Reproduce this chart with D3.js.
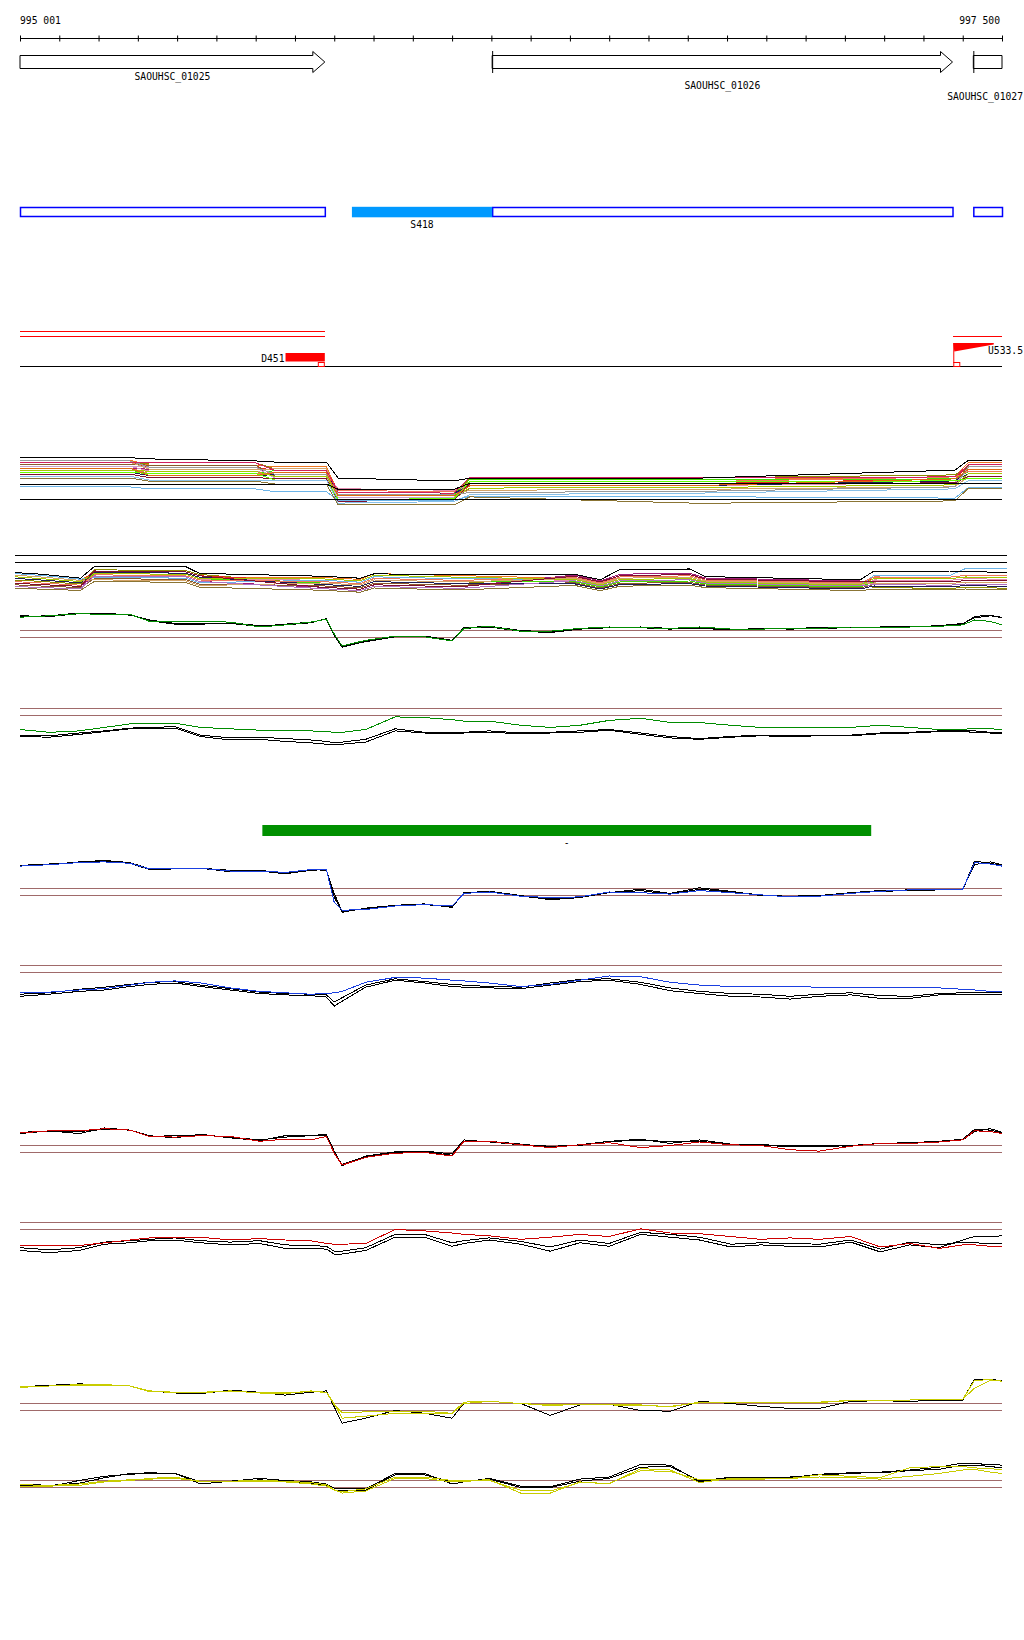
<!DOCTYPE html>
<html>
<head>
<meta charset="utf-8">
<script src="https://cdn.jsdelivr.net/npm/d3@7"></script>
<style>
body { margin: 0; background: #fff; }
svg { display: block; }
text { font-family: "DejaVu Sans Mono", monospace; font-size: 9.7px; fill: #000; }
</style>
</head>
<body>
<div id="chart"></div>
<script>
// ---- region shown ----
var viewStart = 995000, viewEnd = 997500;
var leftLabel = "995 001", rightLabel = "997 500";

// ---- genes ----
var geneNames = ["SAOUHSC_01025", "SAOUHSC_01026", "SAOUHSC_01027"];
var geneStart = [994200, 996202, 997427];
var geneEnd = [995776, 997374, 998300];

// ---- transcript features ----
var utrNames = ["S418"];
var utrStart = [995845];
var utrEnd = [996202];

var redSpanStart = [994200, 994200, 997376];
var redSpanEnd = [995776, 995776, 998300];
var redSpanLane = [0, 1, 1];

var termName = "D451", termStart = 995676, termEnd = 995776;
var promName = "U533.5", promStart = 997376, promEnd = 997479;

var barName = "-", barStart = 995617, barEnd = 997167;

// ---- bundle track 1 (many conditions) ----
var bundlePos = [995000, 995280, 995330, 995600, 995650, 995780, 995810, 996105, 996145, 996730, 997380, 997415, 997500];
var b1 = [11.8, 11.8, 10.5, 10.5, 10.1, 10.1, 3.75, 3.55, 7.0, 6.85, 7.6, 11.25, 11.25];
var b2 = [10.8, 10.6, 11.1, 11.1, 9.6, 9.6, 2.4, 2.5, 7.55, 7.35, 8.1, 10.1, 10.1];
var b3 = [11.3, 11.3, 10.0, 10.0, 9.2, 9.2, 4.2, 3.9, 5.9, 5.9, 7.1, 10.65, 10.65];
var b4 = [9.8, 9.8, 9.5, 9.5, 8.7, 8.7, 2.85, 2.85, 6.45, 6.4, 6.6, 9.5, 9.5];
var b5 = [10.3, 10.3, 9.0, 9.0, 8.2, 8.2, 4.65, 4.25, 5.35, 5.45, 6.1, 10.1, 10.1];
var b6 = [9.3, 9.3, 8.4, 8.4, 9.2, 9.2, 3.3, 3.2, 7.0, 6.85, 7.1, 8.95, 8.95];
var b7 = [10.8, 10.8, 10.5, 10.5, 7.7, 7.7, 1.95, 2.15, 4.8, 4.95, 5.6, 10.65, 10.65];
var b8 = [8.8, 8.8, 7.9, 7.9, 8.2, 8.2, 3.75, 3.55, 5.35, 5.45, 6.6, 8.4, 8.4];
var b9 = [10.3, 10.3, 10.0, 10.0, 7.2, 7.2, 2.4, 2.5, 5.9, 5.9, 6.1, 9.5, 9.5];
var b10 = [11.3, 11.3, 9.5, 9.5, 9.6, 9.6, 3.3, 3.2, 4.25, 4.5, 5.1, 7.8, 7.8];
var b11 = [9.8, 9.8, 8.4, 8.4, 8.7, 8.7, 4.2, 3.9, 6.45, 6.4, 7.6, 8.95, 8.95];
var b12 = [9.3, 9.3, 9.0, 9.0, 7.7, 7.7, 2.85, 2.85, 4.8, 4.95, 5.6, 8.4, 8.4];
var b13 = [8.3, 8.3, 7.4, 7.4, 7.2, 7.2, 1.5, 1.8, 5.9, 5.9, 6.1, 7.8, 7.8];
var b14 = [11.8, 11.6, 10.0, 10.0, 8.2, 8.2, 3.3, 3.2, 3.7, 4.0, 5.1, 10.1, 10.1];
var b15 = [8.8, 8.8, 8.4, 8.4, 6.8, 6.8, 1.95, 2.15, 6.45, 6.4, 6.6, 7.2, 7.2];
var b16 = [9.8, 9.8, 7.9, 7.9, 8.7, 8.7, 2.85, 2.85, 5.35, 5.45, 7.1, 9.5, 9.5];
var b17 = [7.8, 7.8, 6.8, 6.8, 6.8, 6.8, 1.05, 1.45, 3.15, 3.55, 4.6, 6.7, 6.7];
var b18 = [11.3, 11.3, 11.1, 11.1, 9.2, 9.2, 3.75, 3.55, 7.55, 7.35, 7.6, 10.65, 10.65];
var bSky = [5.1, 5.1, 4.6, 4.6, 3.9, 3.9, 1.8, 1.8, 2.7, 2.65, 2.3, 5.0, 5.0];
var bOlive = [7.3, 7.3, 6.5, 6.5, 5.8, 5.8, 0.6, 0.6, 2.6, 1.0, 1.6, 4.8, 4.8];
var bBlackTop = [12.45, 12.4, 12.1, 11.6, 11.3, 11.3, 7.3, 6.6, 7.3, 7.3, 9.3, 11.8, 11.8];
var bBlackMid = [5.8, 5.8, 5.8, 5.8, 5.8, 5.8, 4.5, 4.5, 6.0, 6.0, 6.0, 6.0, 6.0];

// ---- bundle track 2 ----
var bundle2Pos = [995000, 995065, 995165, 995200, 995430, 995465, 995770, 995870, 995905, 996120, 996410, 996475, 996525, 996700, 996740, 997130, 997165, 997355, 997395, 997500];
var s1 = [6.95, 6.5, 5.65, 7.7, 7.45, 6.45, 6.4, 5.9, 7.35, 6.85, 6.15, 4.75, 6.2, 6.45, 5.5, 4.75, 6.5, 6.45, 6.9, 6.85];
var s2 = [5.75, 5.4, 4.75, 8.3, 8.1, 7.15, 4.65, 4.15, 5.35, 4.85, 6.7, 5.25, 6.85, 7.1, 6.0, 5.25, 3.85, 3.65, 3.9, 3.7];
var s3 = [6.55, 6.1, 5.35, 8.0, 7.8, 6.8, 5.35, 4.85, 6.15, 5.65, 6.4, 5.0, 6.5, 6.8, 5.75, 5.0, 6.1, 6.05, 6.5, 6.4];
var s4 = [4.95, 4.6, 4.15, 6.75, 6.5, 5.4, 3.95, 3.45, 4.55, 4.05, 7.0, 5.5, 7.2, 7.45, 6.25, 5.5, 5.0, 4.85, 5.2, 5.05];
var s5 = [6.15, 5.75, 5.05, 7.05, 6.8, 5.75, 6.05, 5.55, 6.95, 6.45, 5.6, 4.25, 5.55, 5.8, 5.0, 4.25, 5.75, 5.65, 6.05, 5.95];
var s6 = [7.35, 6.9, 5.95, 6.45, 6.2, 5.05, 5.7, 5.2, 6.55, 6.05, 5.9, 4.5, 5.9, 6.1, 5.25, 4.5, 6.9, 6.85, 8.6, 8.7];
var s7 = [5.35, 5.0, 4.45, 7.4, 7.15, 6.1, 5.0, 4.5, 5.75, 5.25, 5.35, 4.0, 5.25, 5.5, 4.75, 4.0, 5.4, 5.25, 5.6, 5.5];
var s8 = [4.55, 4.25, 3.85, 6.1, 5.9, 4.7, 4.3, 3.8, 4.95, 4.45, 5.05, 3.75, 4.9, 5.15, 4.5, 3.75, 4.6, 4.45, 4.75, 4.6];
var s9 = [6.15, 5.75, 5.05, 7.7, 7.45, 6.45, 4.65, 4.15, 5.35, 4.85, 4.8, 3.5, 4.6, 4.85, 4.25, 3.5, 4.25, 4.05, 4.35, 4.15];
var s10 = [6.95, 6.5, 5.65, 5.8, 5.55, 4.35, 5.0, 4.5, 5.75, 5.25, 6.15, 4.75, 6.2, 6.45, 5.5, 4.75, 5.0, 4.85, 5.2, 5.05];
var s11 = [5.35, 5.0, 4.45, 7.05, 6.8, 5.75, 5.35, 4.85, 6.15, 5.65, 6.4, 5.0, 6.5, 6.8, 5.75, 5.0, 6.5, 6.45, 6.9, 6.85];
var s12 = [4.15, 3.85, 3.55, 6.75, 6.5, 5.4, 3.6, 3.1, 4.15, 3.65, 5.6, 4.25, 5.55, 5.8, 5.0, 4.25, 4.6, 4.45, 4.75, 4.6];
var s13 = [6.55, 6.1, 5.35, 7.4, 7.15, 6.1, 6.05, 5.55, 6.95, 6.45, 5.9, 4.5, 5.9, 6.1, 5.25, 4.5, 6.1, 6.05, 6.5, 6.4];
var s14 = [4.95, 4.6, 4.15, 8.0, 7.8, 6.8, 3.95, 3.45, 4.55, 4.05, 6.7, 5.25, 6.85, 7.1, 6.0, 5.25, 5.4, 5.25, 5.6, 5.5];
var s15 = [3.75, 3.45, 3.15, 5.4, 5.15, 3.95, 3.2, 2.7, 3.75, 3.25, 4.4, 3.1, 4.2, 4.45, 3.85, 3.1, 3.45, 3.25, 3.5, 3.3];
var sBlack = [7.6, 7.2, 6.2, 9.1, 9.1, 7.4, 6.7, 6.2, 7.3, 7.0, 7.2, 5.8, 8.4, 8.5, 6.6, 5.8, 8.0, 8.0, 7.8, 7.7];

// ---- paired profile tracks ----
var profilePos = [995000, 995075, 995150, 995215, 995280, 995330, 995395, 995460, 995535, 995610,
                  995675, 995740, 995780, 995800, 995820, 995880, 995955, 996030, 996100, 996130,
                  996195, 996275, 996350, 996425, 996500, 996580, 996655, 996730, 996810, 996885,
                  996960, 997035, 997115, 997190, 997265, 997340, 997400, 997430, 997470, 997500];
var thresholds = [6, 5];

var green6 = [7.9, 8.1, 8.4, 8.3, 8.3, 7.3, 7.3, 7.3, 7.2, 6.5, 6.8, 7.2, 7.6, 5.5, 3.8, 4.6, 5.2, 5.1, 4.5, 6.3, 6.6, 5.9, 5.9, 6.3, 6.5, 6.4, 6.3, 6.5, 6.2, 6.2, 6.3, 6.3, 6.5, 6.5, 6.5, 6.6, 6.8, 7.5, 7.3, 6.8];
var black6 = [8.0, 8.1, 8.5, 8.4, 8.3, 7.4, 6.9, 6.9, 7.1, 6.7, 6.8, 7.1, 7.7, 5.3, 3.6, 4.5, 5.2, 5.2, 4.6, 6.4, 6.6, 6.0, 5.8, 6.3, 6.4, 6.4, 6.2, 6.4, 6.1, 6.2, 6.3, 6.4, 6.5, 6.5, 6.6, 6.6, 6.9, 8.0, 8.2, 7.8];
var black6b = [8.1, 8.0, 8.4, 8.4, 8.2, 7.5, 7.0, 7.0, 7.0, 6.6, 6.9, 7.2, 7.6, 5.4, 3.7, 4.4, 5.1, 5.1, 4.5, 6.3, 6.5, 5.9, 5.7, 6.2, 6.4, 6.5, 6.3, 6.3, 6.1, 6.3, 6.2, 6.3, 6.4, 6.4, 6.5, 6.7, 7.0, 7.8, 8.1, 7.9];

var green7 = [3.0, 2.6, 2.8, 3.3, 3.8, 3.8, 3.9, 3.3, 3.1, 2.9, 2.8, 2.8, 2.7, 2.6, 2.6, 3.0, 4.8, 4.7, 4.4, 4.2, 4.2, 3.6, 3.3, 3.6, 4.3, 4.6, 4.0, 4.0, 3.6, 3.3, 3.3, 3.3, 3.3, 3.6, 3.3, 3.0, 3.0, 3.2, 3.1, 3.0];
var black7 = [2.2, 2.1, 2.5, 2.8, 3.2, 3.3, 3.4, 2.2, 1.8, 1.9, 1.7, 1.5, 1.3, 1.1, 1.2, 1.6, 3.1, 2.6, 2.5, 2.6, 2.8, 2.5, 2.6, 2.8, 3.0, 2.5, 2.0, 1.7, 2.0, 2.2, 2.2, 2.2, 2.2, 2.5, 2.6, 2.8, 2.8, 2.8, 2.6, 2.5];
var black7b = [2.0, 1.9, 2.3, 2.7, 3.1, 3.2, 3.2, 2.0, 1.5, 1.6, 1.3, 1.1, 0.9, 0.8, 0.9, 1.2, 2.8, 2.5, 2.4, 2.5, 2.6, 2.4, 2.5, 2.6, 2.9, 2.3, 1.8, 1.6, 1.9, 2.1, 2.0, 2.1, 2.1, 2.4, 2.5, 2.7, 2.7, 2.6, 2.5, 2.4];

var blue8 = [9.2, 9.4, 9.7, 9.8, 9.6, 8.8, 8.9, 8.9, 8.5, 8.5, 8.3, 8.7, 8.7, 4.0, 2.9, 3.0, 3.5, 3.7, 3.5, 5.3, 5.5, 4.9, 4.7, 4.8, 5.5, 5.4, 5.2, 5.7, 5.4, 5.1, 4.8, 4.9, 5.3, 5.6, 5.8, 5.8, 5.9, 9.7, 9.5, 9.2];
var black8 = [9.3, 9.4, 9.8, 10.0, 9.7, 8.8, 8.9, 8.9, 8.6, 8.5, 8.1, 8.6, 8.7, 4.8, 2.6, 3.2, 3.6, 3.8, 3.3, 5.4, 5.6, 5.0, 4.4, 4.7, 5.4, 5.9, 5.3, 6.1, 5.6, 5.0, 4.9, 5.0, 5.4, 5.7, 5.8, 5.8, 5.8, 9.9, 9.6, 9.3];
var black8b = [9.3, 9.5, 9.7, 9.9, 9.6, 8.7, 8.8, 8.9, 8.4, 8.6, 8.2, 8.7, 8.6, 5.3, 2.7, 3.1, 3.5, 3.7, 3.4, 5.3, 5.5, 4.9, 4.5, 4.8, 5.4, 5.7, 5.2, 5.9, 5.5, 5.1, 4.8, 4.9, 5.3, 5.6, 5.7, 5.8, 5.9, 9.4, 9.8, 9.4];

var blue9 = [2.2, 2.2, 2.5, 2.7, 3.2, 3.6, 3.8, 3.5, 2.8, 2.3, 2.1, 1.9, 2.0, 2.1, 2.3, 3.6, 4.3, 4.2, 3.9, 3.8, 3.5, 3.0, 3.3, 3.9, 4.5, 4.4, 3.6, 3.2, 3.0, 3.0, 3.0, 2.9, 2.9, 2.9, 2.8, 2.8, 2.6, 2.5, 2.3, 2.3];
var black9 = [1.6, 1.9, 2.3, 2.5, 3.0, 3.3, 3.5, 3.0, 2.5, 2.0, 1.8, 1.7, 1.5, 0.2, 0.9, 2.9, 3.9, 3.5, 3.0, 2.9, 2.8, 2.7, 3.2, 3.7, 3.9, 3.3, 2.4, 2.0, 1.6, 1.5, 1.2, 1.6, 1.8, 1.3, 1.3, 1.8, 1.9, 1.9, 1.9, 1.9];
var black9b = [1.9, 2.1, 2.6, 2.9, 3.3, 3.6, 3.7, 3.2, 2.7, 2.2, 2.0, 1.9, 1.8, 0.8, 1.4, 3.2, 4.1, 3.7, 3.3, 3.2, 3.0, 2.9, 3.5, 4.0, 4.1, 3.6, 2.8, 2.3, 2.0, 1.9, 1.6, 1.9, 2.1, 1.7, 1.6, 2.0, 2.1, 2.2, 2.2, 2.1];

var red10 = [7.8, 8.1, 8.1, 8.4, 8.2, 7.3, 7.2, 7.4, 7.3, 6.6, 6.9, 6.8, 7.3, 4.9, 3.2, 4.3, 4.9, 5.0, 4.5, 6.6, 6.6, 6.1, 5.7, 6.1, 6.4, 5.7, 6.0, 6.5, 6.1, 6.0, 5.4, 5.2, 5.9, 6.3, 6.3, 6.5, 6.8, 8.1, 8.0, 7.7];
var black10 = [7.9, 8.0, 8.0, 8.3, 8.2, 7.3, 7.4, 7.5, 7.2, 6.8, 7.2, 7.4, 7.6, 5.2, 3.1, 4.5, 5.1, 5.2, 4.8, 6.8, 6.5, 6.1, 5.9, 6.0, 6.6, 6.7, 6.6, 6.6, 6.2, 6.1, 6.0, 6.0, 5.9, 6.3, 6.4, 6.6, 6.9, 8.3, 8.2, 7.8];
var black10b = [7.7, 8.1, 7.7, 8.5, 8.2, 7.4, 7.1, 7.6, 7.1, 6.7, 7.4, 7.4, 7.5, 5.0, 3.3, 4.4, 5.0, 5.1, 4.6, 6.6, 6.6, 6.2, 5.8, 6.1, 6.6, 6.9, 6.3, 6.8, 6.2, 6.1, 5.8, 5.8, 6.0, 6.3, 6.3, 6.6, 6.8, 8.0, 8.4, 7.9];

var red11 = [2.7, 2.7, 2.7, 3.1, 3.5, 3.8, 3.9, 3.9, 3.5, 3.7, 3.5, 3.4, 3.0, 2.9, 2.9, 3.0, 5.0, 4.8, 4.5, 4.3, 4.1, 3.6, 3.9, 4.3, 4.0, 5.1, 4.5, 4.4, 4.0, 3.6, 3.8, 3.6, 4.0, 2.5, 3.0, 2.3, 2.8, 2.8, 2.6, 2.5];
var black11 = [2.0, 1.7, 2.0, 2.9, 3.1, 3.4, 3.5, 3.1, 2.8, 3.0, 2.3, 2.3, 2.2, 1.5, 1.5, 2.0, 3.9, 3.9, 2.6, 3.0, 3.5, 2.9, 1.9, 3.1, 2.6, 4.3, 3.9, 3.5, 2.5, 2.8, 2.6, 2.5, 3.2, 1.8, 2.8, 2.4, 3.5, 4.0, 4.0, 4.1];
var black11b = [2.4, 2.1, 2.4, 3.2, 3.4, 3.6, 3.8, 3.4, 3.2, 3.4, 2.8, 2.7, 2.6, 1.9, 1.9, 2.4, 4.3, 4.3, 3.1, 3.4, 3.8, 3.3, 2.5, 3.5, 3.0, 4.6, 4.3, 3.9, 2.9, 3.1, 3.0, 2.9, 3.5, 2.2, 3.2, 2.8, 3.2, 3.1, 3.0, 3.0];

var yellow12 = [8.3, 8.5, 8.7, 8.7, 8.5, 7.8, 7.6, 7.6, 7.8, 7.5, 7.4, 7.8, 7.6, 5.8, 4.7, 4.8, 4.9, 4.9, 4.6, 6.2, 6.3, 6.0, 5.7, 5.9, 5.9, 5.8, 5.5, 6.2, 6.2, 6.1, 6.1, 6.1, 6.5, 6.5, 6.5, 6.6, 6.6, 9.3, 9.4, 9.2];
var yellow12b = [8.4, 8.5, 8.6, 8.6, 8.5, 7.7, 7.6, 7.6, 7.7, 7.6, 7.5, 7.7, 7.6, 6.0, 3.9, 4.2, 4.6, 4.6, 4.6, 6.0, 6.3, 6.0, 5.8, 5.9, 5.8, 5.7, 5.6, 6.1, 6.2, 6.1, 6.2, 6.2, 6.4, 6.5, 6.5, 6.6, 6.6, 8.2, 9.3, 9.2];
var black12 = [8.4, 8.6, 8.8, 8.7, 8.5, 7.8, 7.5, 7.4, 7.9, 7.6, 7.2, 7.6, 7.8, 5.5, 3.2, 3.9, 5.0, 4.6, 3.9, 6.0, 6.3, 6.0, 4.3, 5.8, 5.9, 5.0, 4.9, 6.3, 6.0, 5.6, 5.3, 5.3, 6.3, 6.4, 6.3, 6.5, 6.5, 9.5, 9.5, 9.2];

var yellow13 = [5.2, 5.2, 5.3, 5.8, 6.0, 6.3, 6.5, 5.8, 5.8, 5.9, 5.8, 5.5, 5.2, 4.6, 4.4, 4.8, 6.5, 6.5, 6.0, 6.0, 6.1, 4.2, 4.2, 5.8, 5.5, 7.7, 7.5, 5.7, 6.3, 6.3, 6.3, 6.8, 6.6, 6.4, 7.8, 8.0, 8.0, 7.8, 7.7, 7.5];
var yellow13b = [5.4, 5.3, 5.5, 5.9, 6.1, 6.2, 6.3, 5.9, 5.9, 6.0, 5.9, 5.7, 5.4, 4.7, 4.2, 4.5, 6.3, 6.3, 5.8, 5.9, 6.0, 4.6, 4.5, 5.7, 5.6, 7.4, 7.3, 6.1, 6.2, 6.2, 6.3, 6.5, 6.4, 6.2, 6.6, 7.0, 7.5, 7.6, 7.2, 7.0];
var black13 = [5.3, 5.1, 6.0, 6.6, 6.9, 7.0, 7.0, 5.5, 5.9, 6.3, 6.0, 5.8, 5.5, 4.9, 4.8, 4.8, 7.0, 7.0, 5.5, 5.8, 6.3, 5.2, 5.1, 6.2, 6.5, 8.3, 8.2, 5.8, 6.5, 6.5, 6.5, 6.8, 7.0, 7.2, 7.5, 7.9, 8.5, 8.4, 8.3, 8.2];
var black13b = [5.5, 5.3, 5.6, 6.4, 7.0, 7.1, 7.0, 5.8, 5.8, 6.1, 5.9, 5.6, 5.3, 4.6, 4.5, 4.6, 6.8, 6.8, 5.8, 5.9, 6.2, 5.0, 5.0, 5.9, 6.3, 7.9, 8.0, 6.0, 6.4, 6.3, 6.4, 6.9, 7.1, 7.1, 7.4, 7.6, 8.2, 8.2, 8.0, 7.8];

// ---- colours ----
var GREEN = "#008c00", BLUE = "#1a3fe0", RED = "#cc0000", YELLOW = "#c8cc00", BROWN = "#a06a6a";
var bundleColors = ["#ee7722", "#8c8c00", "#e8281e", "#a01e78", "#e38cb0", "#44dd00", "#8b5a2b", "#1e1e55",
                    "#c8a0d0", "#d4a468", "#f0785a", "#a6c800", "#801030", "#9a9a9a", "#66ff00", "#e06a10",
                    "#88c0e8", "#d02060"];

// ---- drawing ----
var svg = d3.select("#chart").append("svg")
    .attr("width", 1024)
    .attr("height", 1640);

var x = d3.scaleLinear().domain([viewStart, viewEnd]).range([20, 1002]);
var xWide = d3.scaleLinear().domain([viewStart, viewEnd]).range([15, 1007]);
var xMin = x.range()[0], xMax = x.range()[1];

function hline(y, x1, x2, color, w) {
    svg.append("line")
        .attr("x1", x1).attr("x2", x2)
        .attr("y1", y).attr("y2", y)
        .attr("stroke", color)
        .attr("stroke-width", w || 1)
        .attr("shape-rendering", "crispEdges");
}

function drawLine(g, pos, vals, xs, ys, color) {
    var line = d3.line()
        .x(function (d, i) { return xs(pos[i]); })
        .y(function (d) { return ys(d); });
    g.append("path")
        .datum(vals)
        .attr("d", line)
        .attr("fill", "none")
        .attr("stroke", color)
        .attr("stroke-width", 1)
        .attr("shape-rendering", "crispEdges");
}

// pull a label back inside the page if it runs off the right edge
function keepInside(sel, anchor) {
    var w = sel.node().getComputedTextLength();
    var x0 = +sel.attr("x");
    var right = anchor === "middle" ? x0 + w / 2 : x0 + w;
    if (right > 1023) sel.attr("x", x0 - (right - 1023));
}

// scale ruler
var ruler = d3.axisBottom(x)
    .tickValues(d3.range(viewStart, viewEnd + 1, 100))
    .tickSize(6)
    .tickSizeOuter(0)
    .tickFormat("");
svg.append("g")
    .attr("transform", "translate(0,35.5)")
    .call(ruler)
    .call(function (g) { g.select(".domain").remove(); })
    .selectAll("line").attr("stroke", "#000");
hline(38.5, xMin, xMax, "#000");
svg.append("text").attr("x", 20).attr("y", 24).text(leftLabel);
svg.append("text").attr("x", 1000).attr("y", 24).attr("text-anchor", "end").text(rightLabel);

// gene arrows
var labelY = [80, 88.5, 100];
geneNames.forEach(function (name, i) {
    var a = Math.max(x(geneStart[i]), xMin);
    var b = Math.min(x(geneEnd[i]), xMax);
    var headed = geneEnd[i] <= viewEnd;
    var hx = headed ? b - 12 : b;
    var p = d3.path();
    p.moveTo(a, 55.5);
    p.lineTo(hx, 55.5);
    if (headed) {
        p.lineTo(hx, 51.5);
        p.lineTo(b, 62);
        p.lineTo(hx, 72.5);
        p.lineTo(hx, 68.5);
    } else {
        p.lineTo(b, 68.5);
    }
    p.lineTo(a, 68.5);
    p.closePath();
    svg.append("path").attr("d", p.toString())
        .attr("fill", "#fff").attr("stroke", "#000").attr("stroke-width", 1);
    if (geneStart[i] >= viewStart) {
        svg.append("line").attr("x1", a + 0.5).attr("x2", a + 0.5)
            .attr("y1", 51).attr("y2", 73).attr("stroke", "#000");
    }
    var lbl = svg.append("text")
        .attr("x", (a + b) / 2).attr("y", labelY[i])
        .attr("text-anchor", "middle")
        .text(name);
    keepInside(lbl, "middle");
});

// transcript boxes
geneNames.forEach(function (name, i) {
    var a = Math.max(x(geneStart[i]), xMin);
    var b = Math.min(x(geneEnd[i]), xMax);
    svg.append("rect")
        .attr("x", a + 0.5).attr("y", 207.5)
        .attr("width", b - a).attr("height", 9)
        .attr("fill", "none").attr("stroke", "#0000ff").attr("stroke-width", 1.5);
});
utrNames.forEach(function (name, i) {
    var a = x(utrStart[i]), b = x(utrEnd[i]);
    svg.append("rect")
        .attr("x", a).attr("y", 206.8)
        .attr("width", b - a).attr("height", 10.5)
        .attr("fill", "#0099ff");
    svg.append("text").attr("x", (a + b) / 2).attr("y", 228)
        .attr("text-anchor", "middle").text(name);
});

// red feature track
var redLaneY = [331.5, 336.5];
redSpanStart.forEach(function (s, i) {
    hline(redLaneY[redSpanLane[i]], Math.max(x(s), xMin), Math.min(x(redSpanEnd[i]), xMax), "#ff0000");
});
hline(366.5, xMin, xMax, "#000");
svg.append("rect")
    .attr("x", x(termStart)).attr("y", 353)
    .attr("width", x(termEnd) - x(termStart)).attr("height", 8.5)
    .attr("fill", "#ff0000");
svg.append("rect")
    .attr("x", x(termEnd) - 6.5).attr("y", 362.5)
    .attr("width", 6).attr("height", 4)
    .attr("fill", "#fff").attr("stroke", "#ff0000");
svg.append("text").attr("x", x(termStart) - 1).attr("y", 361.5)
    .attr("text-anchor", "end").text(termName);

var px0 = x(promStart), px1 = x(promEnd);
svg.append("line").attr("x1", px0 + 0.5).attr("x2", px0 + 0.5)
    .attr("y1", 343).attr("y2", 363).attr("stroke", "#ff0000");
var flag = d3.path();
flag.moveTo(px0, 343);
flag.lineTo(px1, 343);
flag.lineTo(px1, 344.5);
flag.lineTo(px0 + 1, 351.5);
flag.closePath();
svg.append("path").attr("d", flag.toString()).attr("fill", "#ff0000");
svg.append("rect")
    .attr("x", px0 + 0.5).attr("y", 362.5)
    .attr("width", 6).attr("height", 4)
    .attr("fill", "#fff").attr("stroke", "#ff0000");
var promLbl = svg.append("text").attr("x", px1 - 2).attr("y", 354).text(promName);
keepInside(promLbl, "start");

// bundle track 1
var yB1 = d3.scaleLinear().domain([2, 12]).range([499.3, 459.3]);
var g1 = svg.append("g");
[b1, b2, b3, b4, b5, b6, b7, b8, b9, b10, b11, b12, b13, b14, b15, b16, b17, b18].forEach(function (s, i) {
    drawLine(g1, bundlePos, s, x, yB1, bundleColors[i]);
});
drawLine(g1, bundlePos, bSky, x, yB1, "#6cb4e8");
drawLine(g1, bundlePos, bOlive, x, yB1, "#8b7535");
drawLine(g1, bundlePos, bBlackTop, x, yB1, "#000");
drawLine(g1, bundlePos, bBlackMid, x, yB1, "#000");
hline(499.5, xMin, xMax, "#000");

// bundle track 2
hline(555.5, 15, 1007, "#000");
hline(562.5, 15, 1007, "#000");
var yB2 = d3.scaleLinear().domain([2, 12]).range([595, 555]);
var g2 = svg.append("g");
var colors2 = ["#ee7722", "#8c8c00", "#e8281e", "#a01e78", "#e38cb0", "#6cb4e8", "#44dd00", "#8b5a2b",
               "#1e1e55", "#d4a468", "#f0785a", "#b070c0", "#a6c800", "#801030", "#8b7535"];
[s1, s2, s3, s4, s5, s6, s7, s8, s9, s10, s11, s12, s13, s14, s15].forEach(function (s, i) {
    drawLine(g2, bundle2Pos, s, xWide, yB2, colors2[i]);
});
drawLine(g2, bundle2Pos, sBlack, xWide, yB2, "#000");

// green bar
svg.append("rect")
    .attr("x", x(barStart)).attr("y", 825)
    .attr("width", x(barEnd) - x(barStart)).attr("height", 11)
    .attr("fill", "#009000");
svg.append("text").attr("x", (x(barStart) + x(barEnd)) / 2).attr("y", 846)
    .attr("text-anchor", "middle").text(barName);

// paired profile tracks
var profileTracks = [
    { top: 630.5, series: [black6, black6b], color: GREEN, main: [green6] },
    { top: 708.5, series: [black7, black7b], color: GREEN, main: [green7] },
    { top: 888.5, series: [black8, black8b], color: BLUE, main: [blue8] },
    { top: 965.5, series: [black9, black9b], color: BLUE, main: [blue9] },
    { top: 1145.5, series: [black10, black10b], color: RED, main: [red10] },
    { top: 1222.5, series: [black11, black11b], color: RED, main: [red11] },
    { top: 1403.5, series: [black12], color: YELLOW, main: [yellow12, yellow12b] },
    { top: 1480.5, series: [black13, black13b], color: YELLOW, main: [yellow13, yellow13b] }
];

profileTracks.forEach(function (t) {
    var ys = d3.scaleLinear().domain([5, 6]).range([t.top + 7, t.top]);
    thresholds.forEach(function (v) { hline(ys(v), xMin, xMax, BROWN); });
    var g = svg.append("g");
    t.series.forEach(function (s) { drawLine(g, profilePos, s, x, ys, "#000"); });
    t.main.forEach(function (s) { drawLine(g, profilePos, s, x, ys, t.color); });
});
</script>
</body>
</html>
